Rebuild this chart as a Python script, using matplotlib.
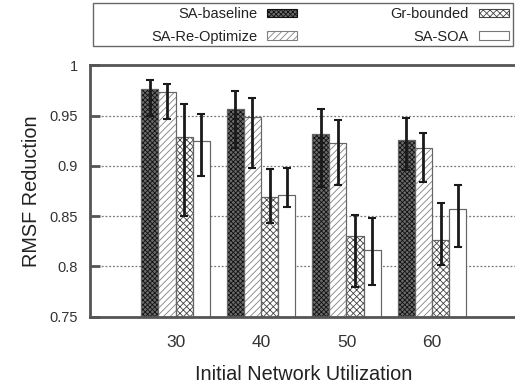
import numpy as np
import matplotlib
matplotlib.use("Agg")
import matplotlib.pyplot as plt
from matplotlib.patches import Rectangle

plt.rcParams['font.family'] = ['Liberation Sans', 'DejaVu Sans']
plt.rcParams['hatch.linewidth'] = 0.6

# utilization levels and the four approaches
utilization = [30, 40, 50, 60]
methods = ["SA-baseline", "SA-Re-Optimize", "Gr-bounded", "SA-SOA"]

# mean RMSF reduction per method (rows) and utilization (columns)
rmsf_mean = [
    [0.977, 0.957, 0.932, 0.926],
    [0.974, 0.949, 0.923, 0.918],
    [0.929, 0.869, 0.830, 0.826],
    [0.925, 0.871, 0.816, 0.857],
]
# upper and lower ends of the error bars
rmsf_high = [
    [0.986, 0.975, 0.957, 0.948],
    [0.982, 0.968, 0.946, 0.933],
    [0.962, 0.897, 0.851, 0.863],
    [0.952, 0.898, 0.848, 0.881],
]
rmsf_low = [
    [0.950, 0.918, 0.879, 0.896],
    [0.947, 0.898, 0.881, 0.884],
    [0.850, 0.843, 0.780, 0.801],
    [0.890, 0.859, 0.782, 0.819],
]

styles = [
    dict(facecolor='#6a6a6a', hatch='xxxxxxx', edgecolor='#111111'),
    dict(facecolor='white', hatch='/////', edgecolor='#808080'),
    dict(facecolor='white', hatch='xxxxx', edgecolor='#444444'),
    dict(facecolor='white', hatch='', edgecolor='#777777'),
]

fig = plt.figure(figsize=(5.15, 3.91), dpi=100)
ax = fig.add_axes([0.1748, 0.190, 0.830, 0.6425])

bar_w = 2.0
x = np.array(utilization, dtype=float)
for i in range(len(methods)):
    pos = x + (i - 1.5) * bar_w
    mean = np.array(rmsf_mean[i])
    err = [mean - np.array(rmsf_low[i]), np.array(rmsf_high[i]) - mean]
    ax.bar(pos, mean - 0.75, bar_w, bottom=0.75, label=methods[i],
           linewidth=0.8, zorder=2, **styles[i])
    # outline without hatch on top
    ax.bar(pos, mean - 0.75, bar_w, bottom=0.75, fill=False,
           edgecolor='#666666', linewidth=0.8, zorder=2.1)
    ax.errorbar(pos, mean, yerr=err, fmt='none', ecolor='#1a1a1a',
                elinewidth=2, capsize=3, capthick=1.5, zorder=3)

ax.set_xlim(20, 70)
ax.set_ylim(0.75, 1.0)
ax.set_yticks([0.75, 0.8, 0.85, 0.9, 0.95, 1.0])
ax.set_yticklabels(["0.75", "0.8", "0.85", "0.9", "0.95", "1"])
ax.set_xticks(utilization)

ax.yaxis.grid(True, linestyle=(0, (1.5, 1.5)), color='#777777', linewidth=0.9, zorder=1)
ax.set_axisbelow(True)

for side in ['left', 'top', 'bottom']:
    ax.spines[side].set_color('#555555')
    ax.spines[side].set_linewidth(2)
ax.spines['right'].set_visible(False)

ax.tick_params(axis='y', direction='in', length=7, width=2, color='#555555',
               labelsize=10.5, labelcolor='#333333', pad=9)
ax.tick_params(axis='x', length=0, labelsize=12.5, labelcolor='#333333', pad=13)

ax.set_xlabel("Initial Network Utilization", fontsize=14.3, color='#222222', labelpad=11)
ax.set_ylabel("RMSF Reduction", fontsize=14.3, color='#222222')
ax.yaxis.set_label_coords(-0.115, 0.5)

# legend: label on the left, sample on the right
leg = fig.legend(loc='upper right', bbox_to_anchor=(509 / 515, 1 - 7 / 391),
                 ncol=2, markerfirst=False, frameon=False, fontsize=10.5,
                 handlelength=2.05, handleheight=0.5, handletextpad=0.7,
                 columnspacing=6.4, labelspacing=0.6, borderpad=0, borderaxespad=0)
for t in leg.get_texts():
    t.set_color('#222222')
fig.add_artist(Rectangle((92.7 / 515, 1 - 45.7 / 391), (513 - 92.7) / 515, 43 / 391,
                         transform=fig.transFigure, fill=False,
                         edgecolor='#666666', linewidth=1.0))

fig.savefig("out.png", dpi=100)
